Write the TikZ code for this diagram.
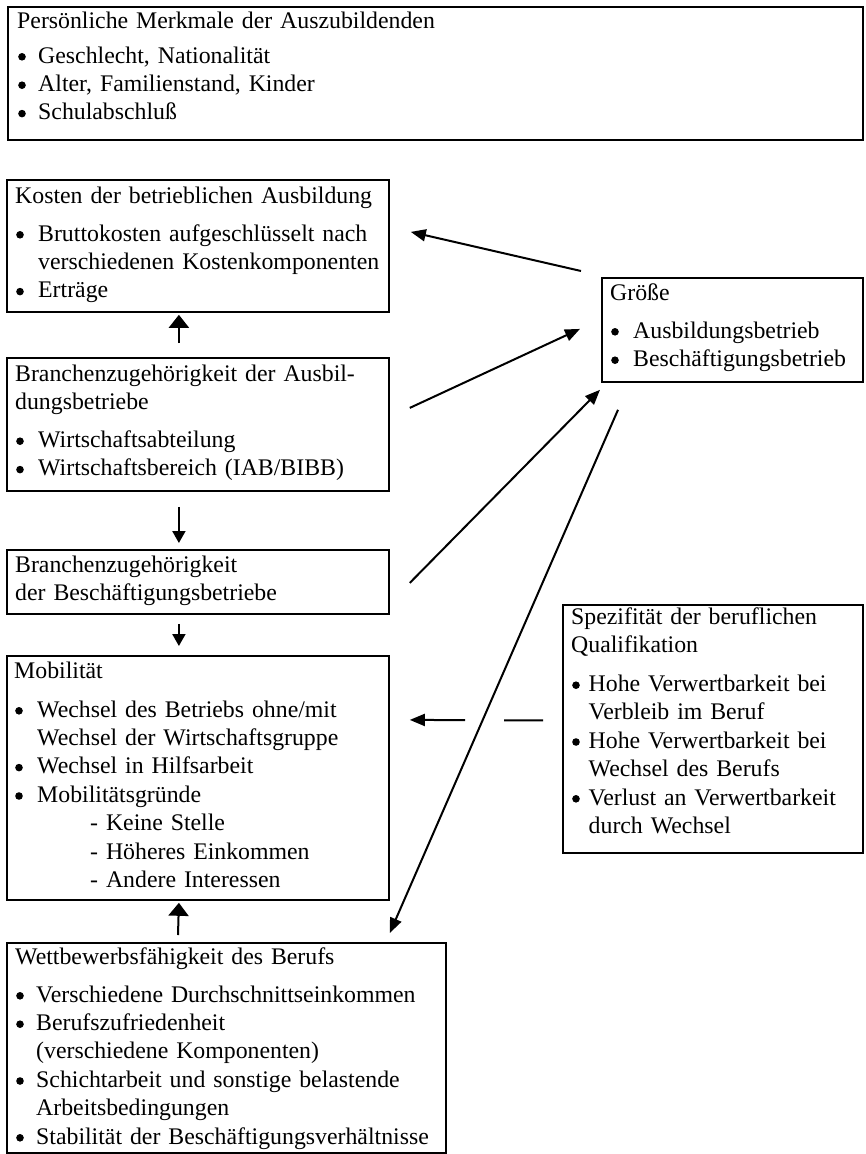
\documentclass[tikz,border=0pt]{standalone}
\usepackage{fontspec}
\setmainfont{Liberation Serif}
\usetikzlibrary{arrows.meta,calc}
\newlength{\bw}
\newcommand{\bul}{\makebox[\bw][l]{\hspace{1pt}\tikz[baseline=0pt]\fill (3.8pt,6.2pt) circle (3.8pt);}}
\newcommand{\ind}{\hspace*{\bw}}
\tikzset{
  box/.style={draw, line width=1.8pt, rectangle, inner sep=0pt, anchor=north west},
  txt/.style={anchor=base west, inner sep=0pt, text width=520pt, align=left,
    font=\fontsize{23.8}{28.4}\selectfont},
  conn/.style={line width=2pt, -{Triangle[length=15pt,width=12pt]}},
  upar/.style={line width=2pt, -{Triangle[length=13pt,width=20pt]}},
  dnar/.style={line width=2pt, -{Triangle[length=12pt,width=13pt]}}
}
\begin{document}
\begin{tikzpicture}[x=1pt,y=-1pt]
\useasboundingbox (0,0) rectangle (865,1154);
\fill[white] (0,0) rectangle (865,1154);
% boxes
\node[box, minimum width=855pt, minimum height=133pt] (B1) at (7,6) {};
\node[box, minimum width=382pt, minimum height=132pt] (B2) at (6,179) {};
\node[box, minimum width=382pt, minimum height=133pt] (B3) at (6,357) {};
\node[box, minimum width=382pt, minimum height=64pt] (B4) at (6,549) {};
\node[box, minimum width=382pt, minimum height=244pt] (B5) at (6,655) {};
\node[box, minimum width=439pt, minimum height=210pt] (B6) at (6,942) {};
\node[box, minimum width=261pt, minimum height=104pt] (G) at (601,277) {};
\node[box, minimum width=300pt, minimum height=248pt] (S) at (562,604) {};
% texts
\node[txt] (T1) at (17,28) {\setlength{\bw}{21pt}Persönliche Merkmale der Auszubildenden\\[6.6pt]
\bul Geschlecht, Nationalität\\
\bul Alter, Familienstand, Kinder\\
\bul Schulabschluß};
\node[txt] (T2) at (15,203) {\setlength{\bw}{23pt}Kosten der betrieblichen Ausbildung\\[9.6pt]
\bul Bruttokosten aufgeschlüsselt nach\\
\ind verschiedenen Kostenkomponenten\\
\bul Erträge};
\node[txt] (T3) at (15,381) {\setlength{\bw}{23pt}Branchenzugehörigkeit der Ausbil-\\
dungsbetriebe\\[9.6pt]
\bul Wirtschaftsabteilung\\
\bul Wirtschaftsbereich (IAB/BIBB)};
\node[txt] (T4) at (15,572) {Branchenzugehörigkeit\\
der Beschäftigungsbetriebe};
\node[txt] (T5) at (14,678) {\setlength{\bw}{23pt}Mobilität\\[10.6pt]
\bul Wechsel des Betriebs ohne/mit\\
\ind Wechsel der Wirtschaftsgruppe\\
\bul Wechsel in Hilfsarbeit\\
\bul Mobilitätsgründe\\
\hspace*{76pt}- Keine Stelle\\
\hspace*{76pt}- Höheres Einkommen\\
\hspace*{76pt}- Andere Interessen};
\node[txt] (T6) at (15,964) {\setlength{\bw}{21pt}Wettbewerbsfähigkeit des Berufs\\[9.6pt]
\bul Verschiedene Durchschnittseinkommen\\
\bul Berufszufriedenheit\\
\ind (verschiedene Komponenten)\\
\bul Schichtarbeit und sonstige belastende\\
\ind Arbeitsbedingungen\\
\bul Stabilität der Beschäftigungsverhältnisse};
\node[txt] (TG) at (610,300) {\setlength{\bw}{23pt}Größe\\[9.6pt]
\bul Ausbildungsbetrieb\\
\bul Beschäftigungsbetrieb};
\node[txt] (TS) at (571,624) {\setlength{\bw}{17.5pt}Spezifität der beruflichen\\
Qualifikation\\[10.6pt]
\bul Hohe Verwertbarkeit bei\\
\ind Verbleib im Beruf\\
\bul Hohe Verwertbarkeit bei\\
\ind Wechsel des Berufs\\
\bul Verlust an Verwertbarkeit\\
\ind durch Wechsel};
% connectors
\draw[conn] ($(G.north west)+(-20,-6)$) -- ($(B2.east)+(21,-14)$);
\draw[conn] ($(B3.east)+(20,-16.5)$) -- ($(G.west)+(-21,-1)$);
\draw[conn] ($(B4.east)+(20,1)$) -- ($(G.south west)+(-1,7)$);
\draw[conn] ($(G.south west)+(17,27)$) -- ($(B6.north east)+(-57,-9)$);
\draw[conn, dash pattern=on 39pt off 39pt on 300pt] ($(S.west)+(-19,-8.5)$) -- ($(B5.east)+(20,-58)$);
\draw[upar] ($(B3.north)+(-19,-14)$) -- ($(B2.south)+(-19,2)$);
\draw[dnar] ($(B3.south)+(-19,15)$) -- ($(B4.north)+(-19,-6)$);
\draw[dnar] ($(B4.south)+(-19,9)$) -- ($(B5.north)+(-19,-9)$);
\draw[upar] ($(B6.north west)+(172,-7)$) -- ($(B5.south)+(-19,2)$);
\end{tikzpicture}
\end{document}
